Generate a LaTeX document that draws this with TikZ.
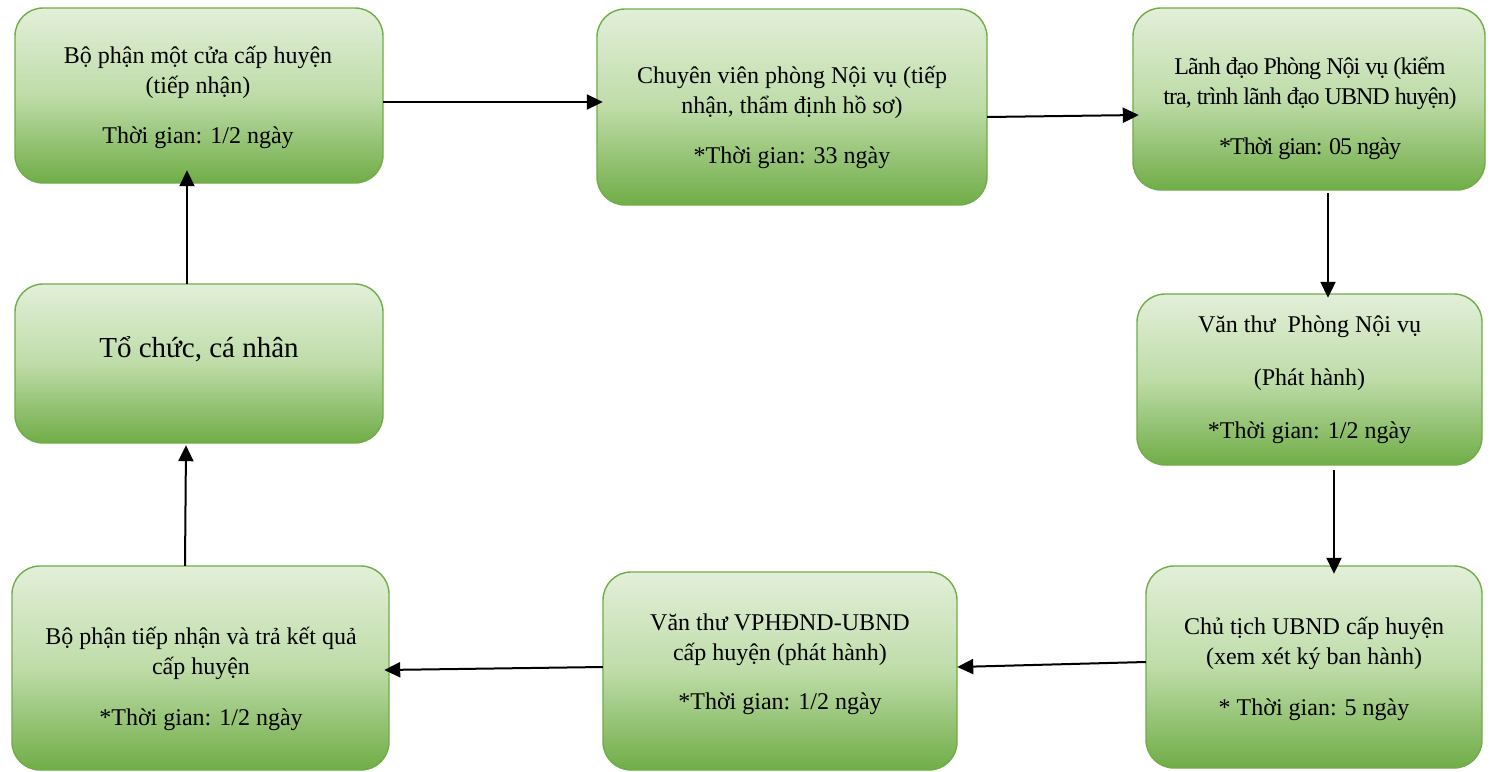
\documentclass[tikz,border=0pt]{standalone}
\usepackage{fontspec}
\setmainfont{Liberation Serif}
\usetikzlibrary{calc,arrows.meta}
\definecolor{gtop}{HTML}{E3EFD9}
\definecolor{gmid}{HTML}{BEDCA8}
\definecolor{gbot}{HTML}{70AD47}
\definecolor{gline}{HTML}{70AD47}
\tikzset{
  box/.style={draw=gline, line width=1.4pt, rounded corners=28pt,
    top color=gtop, bottom color=gbot, middle color=gmid, inner sep=0pt},
  txt/.style={align=center, font=\fontsize{24}{30}\selectfont, inner sep=0pt},
  arr/.style={-{Triangle[length=16pt,width=15pt]}, line width=2pt, black},
}
\begin{document}
\begin{tikzpicture}[x=1pt,y=-1pt]
\useasboundingbox (0,0) rectangle (1501,771);
% boxes (corner coordinates in pixels)
\path[box] (15,8) rectangle (383,183);
\node[inner sep=0pt, minimum width=368pt, minimum height=175pt] (b1) at (199,95.5) {};
\path[box] (597,9) rectangle (987,205);
\node[inner sep=0pt, minimum width=390pt, minimum height=196pt] (b2) at (792,107) {};
\path[box] (1133,8) rectangle (1485,190);
\node[inner sep=0pt, minimum width=352pt, minimum height=182pt] (b3) at (1309,99) {};
\path[box] (1137,294) rectangle (1482,465);
\node[inner sep=0pt, minimum width=345pt, minimum height=171pt] (b4) at (1309.5,379.5) {};
\path[box] (1146,566) rectangle (1482,768);
\node[inner sep=0pt, minimum width=336pt, minimum height=202pt] (b5) at (1314,667) {};
\path[box] (603,572) rectangle (957,770);
\node[inner sep=0pt, minimum width=354pt, minimum height=198pt] (b6) at (780,671) {};
\path[box] (12,566) rectangle (389,770);
\node[inner sep=0pt, minimum width=377pt, minimum height=204pt] (b7) at (200.5,668) {};
\path[box] (15,284) rectangle (383,443);
\node[inner sep=0pt, minimum width=368pt, minimum height=159pt] (b8) at (199,363.5) {};
% texts
\node[txt] (t1) at (198,97) {Bộ phận một cửa cấp huyện\\(tiếp nhận)\\[20pt]Thời gian: 1/2 ngày};
\node[txt] (t2) at (792,117) {Chuyên viên phòng Nội vụ (tiếp\\nhận, thẩm định hồ sơ)\\[20pt]*Thời gian: 33 ngày};
\node[txt, font=\fontsize{24}{30}\selectfont\addfontfeature{LetterSpace=-4}] (t3) at (1310,108) {Lãnh đạo Phòng Nội vụ (kiểm\\tra, trình lãnh đạo UBND huyện)\\[20pt]*Thời gian: 05 ngày};
\node[txt, font=\fontsize{24}{53}\selectfont] (t4) at (1309.5,380) {Văn thư~~Phòng Nội vụ\\(Phát hành)\\*Thời gian: 1/2 ngày};
\node[txt] (t5) at (1314,669) {Chủ tịch UBND cấp huyện\\(xem xét ký ban hành)\\[21pt]* Thời gian: 5 ngày};
\node[txt] (t6) at (780,664) {Văn thư VPHĐND-UBND\\cấp huyện (phát hành)\\[19pt]*Thời gian: 1/2 ngày};
\node[txt] (t7) at (201,679) {Bộ phận tiếp nhận và trả kết quả\\cấp huyện\\[21pt]*Thời gian: 1/2 ngày};
\node[txt, font=\fontsize{29}{34}\selectfont] (t8) at (199,349) {Tổ chức, cá nhân};
% connectors
\draw[arr] ($(b1.east)+(0,6.5)$) -- ($(b2.west)+(6,-5)$);
\draw[arr] ($(b2.east)+(0,10)$) -- ($(b3.west)+(6,16)$);
\draw[arr] ($(b3.south)+(19,3)$) -- ($(b4.north)+(18.5,4)$);
\draw[arr] ($(b4.south)+(24.5,5)$) -- ($(b5.north)+(20,8)$);
\draw[arr] ($(b5.west)+(0,-5)$) -- ($(b6.east)+(0,-4)$);
\draw[arr] ($(b6.west)+(0,-4)$) -- ($(b7.east)+(-5,2)$);
\draw[arr] ($(b7.north)+(-15.5,0)$) -- ($(b8.south)+(-13,2)$);
\draw[arr] ($(b8.north)+(-12,0)$) -- ($(b1.south)+(-12,-13)$);
\end{tikzpicture}
\end{document}
